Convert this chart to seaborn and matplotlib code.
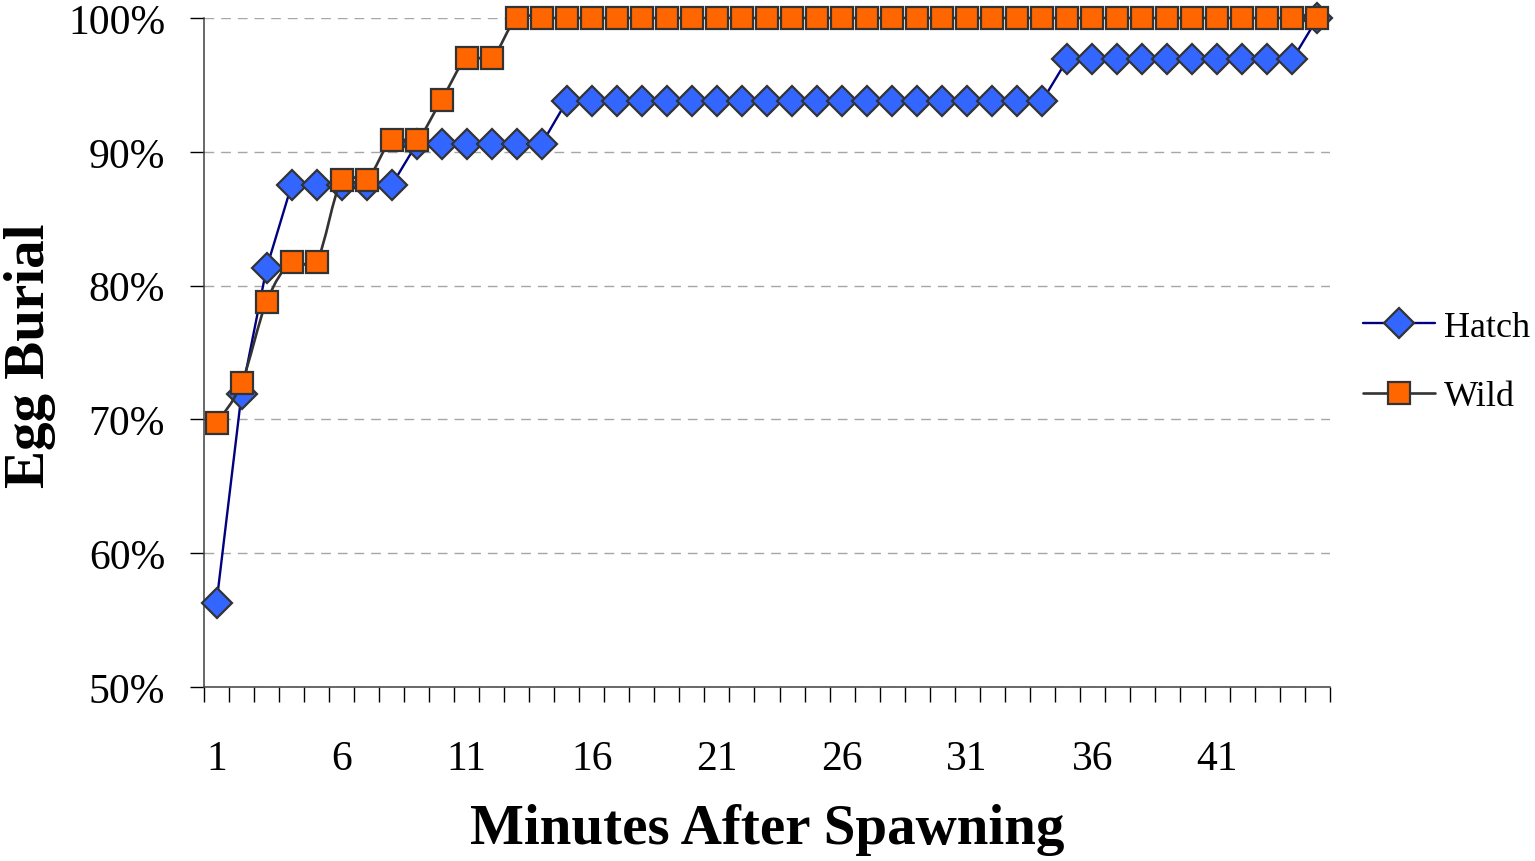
import numpy as np
import pandas as pd
import matplotlib
matplotlib.use("Agg")
import matplotlib.pyplot as plt
from matplotlib.path import Path
from matplotlib.patches import PathPatch
from matplotlib.lines import Line2D
from matplotlib.ticker import FixedLocator, FuncFormatter
import seaborn as sns

# Minutes after spawning (one category per minute)
minutes = list(range(1, 46))

# Cumulative share of eggs buried (%)
hatch_pct = ([56.3, 71.9, 81.3] + [87.5] * 5 + [90.6] * 6 + [93.8] * 20
             + [96.9] * 10 + [100.0])
wild_pct = ([69.7, 72.7, 78.8] + [81.8] * 2 + [87.9] * 2 + [90.9] * 2
            + [93.9] + [97.0] * 2 + [100.0] * 33)

y_ticks = [50, 60, 70, 80, 90, 100]
x_tick_labels = [1, 6, 11, 16, 21, 26, 31, 36, 41]

sns.set_style("white")
plt.rcParams["font.family"] = ["Liberation Serif", "DejaVu Serif"]
plt.rcParams["text.color"] = "black"
plt.rcParams["axes.labelcolor"] = "black"
plt.rcParams["xtick.color"] = "black"
plt.rcParams["ytick.color"] = "black"

hatch_df = pd.DataFrame({"minute": minutes, "pct": hatch_pct})
wild_df = pd.DataFrame({"minute": minutes, "pct": wild_pct})

HATCH_FILL, HATCH_LINE = "#3366FF", "#000080"
WILD_FILL, WILD_LINE = "#FF6600", "#333333"
EDGE = "#333333"

D_SIZE, S_SIZE = 15.5, 16.5

fig = plt.figure(figsize=(15.35, 8.62), dpi=100)
ax = fig.add_axes([204 / 1535, 1 - 688 / 862, 1126 / 1535, 669 / 862])


def smooth_path(xs, ys):
    """Cubic Bezier path through the points (Catmull-Rom style tangents)."""
    n = len(xs)
    verts = [(xs[0], ys[0])]
    codes = [Path.MOVETO]
    for i in range(n - 1):
        i0, i3 = max(i - 1, 0), min(i + 2, n - 1)
        x1, y1, x2, y2 = xs[i], ys[i], xs[i + 1], ys[i + 1]
        c1 = (x1 + (x2 - xs[i0]) / 6, y1 + (y2 - ys[i0]) / 6)
        c2 = (x2 - (xs[i3] - x1) / 6, y2 - (ys[i3] - y1) / 6)
        verts += [c1, c2, (x2, y2)]
        codes += [Path.CURVE4] * 3
    return Path(verts, codes)


# Hatch series: straight segments with diamond markers
sns.lineplot(data=hatch_df, x="minute", y="pct", ax=ax, color=HATCH_LINE,
             linewidth=1.7, marker="D", markersize=D_SIZE,
             markerfacecolor=HATCH_FILL, markeredgecolor=EDGE,
             markeredgewidth=1.6, clip_on=False, zorder=3)

# Wild series: smoothed line with square markers
ax.add_patch(PathPatch(smooth_path(minutes, wild_pct), facecolor="none",
                       edgecolor=WILD_LINE, linewidth=1.9, zorder=4,
                       clip_on=False))
sns.lineplot(data=wild_df, x="minute", y="pct", ax=ax, linewidth=0,
             marker="s", markersize=S_SIZE, markerfacecolor=WILD_FILL,
             markeredgecolor=EDGE, markeredgewidth=1.6, clip_on=False,
             zorder=5)

ax.set_xlim(0.5, 45.5)
ax.set_ylim(50, 100)

# Y axis: percent ticks with dashed grid
ax.set_yticks(y_ticks)
ax.yaxis.set_major_formatter(FuncFormatter(lambda v, _: f"{v:.0f}%"))
ax.tick_params(axis="y", which="major", direction="out", length=10,
               width=1, color="black", pad=18, labelsize=30, left=True)
ax.grid(axis="y", color="#a6a6a6", linestyle=(0, (7, 5)), linewidth=1)
ax.grid(axis="x", visible=False)

# X axis: ticks between categories, labels every 5 minutes
ax.set_xticks(x_tick_labels)
ax.set_xticklabels([str(v) for v in x_tick_labels])
ax.xaxis.set_minor_locator(FixedLocator(np.arange(0.5, 46, 1.0)))
ax.tick_params(axis="x", which="major", length=0, pad=38, labelsize=30,
               bottom=True)
ax.tick_params(axis="x", which="minor", direction="out", length=11,
               width=1, color="black", bottom=True)

for side in ("top", "right"):
    ax.spines[side].set_visible(False)
for side in ("left", "bottom"):
    ax.spines[side].set_color("#404040")
    ax.spines[side].set_linewidth(1.1)

ax.set_xlabel("Minutes After Spawning", fontsize=41, fontweight="bold")
ax.xaxis.set_label_coords(0.5, (688 - 830) / 669)
ax.xaxis.label.set_va("center")
ax.set_ylabel("Egg Burial", fontsize=41, fontweight="bold")
ax.yaxis.set_label_coords((30 - 204) / 1126, 0.496)
ax.yaxis.label.set_va("center")

handles = [
    Line2D([], [], color=HATCH_LINE, linewidth=1.7, marker="D",
           markersize=D_SIZE, markerfacecolor=HATCH_FILL,
           markeredgecolor=EDGE, markeredgewidth=1.6),
    Line2D([], [], color=WILD_LINE, linewidth=1.9, marker="s",
           markersize=S_SIZE, markerfacecolor=WILD_FILL,
           markeredgecolor=EDGE, markeredgewidth=1.6),
]
fig.legend(handles, ["Hatch", "Wild"], loc="center left",
           bbox_to_anchor=(1345 / 1535, 1 - 363 / 862), frameon=False,
           fontsize=26, borderpad=0, handlelength=2.0, handletextpad=0.25,
           labelspacing=1.0)

fig.savefig("out.png", dpi=100)
